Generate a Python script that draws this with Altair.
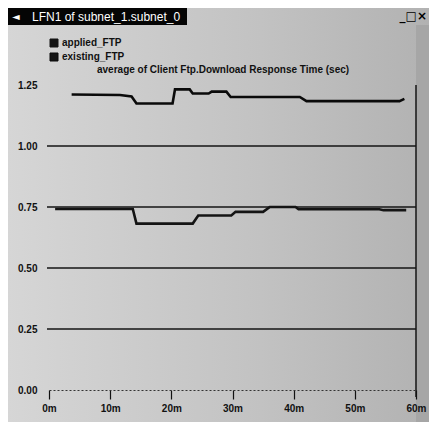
import altair as alt
import pandas as pd

# ---- data ----
series_names = ["applied_FTP", "existing_FTP"]

applied_minutes = [1.0, 13.7, 14.3, 23.5, 24.4, 29.8, 30.5, 35.0, 36.1, 40.3, 40.8, 54.0, 54.7, 58.4]
applied_values = [0.742, 0.742, 0.682, 0.682, 0.715, 0.715, 0.730, 0.730, 0.750, 0.750, 0.741, 0.741, 0.737, 0.737]

existing_minutes = [3.7, 11.6, 13.5, 14.3, 20.2, 20.6, 23.0, 23.5, 26.1, 26.6, 29.0, 29.7, 41.0, 42.1, 57.3, 58.1]
existing_values = [1.211, 1.209, 1.203, 1.174, 1.174, 1.232, 1.232, 1.215, 1.215, 1.223, 1.223, 1.201, 1.201, 1.184, 1.184, 1.193]

grid_values = [0.25, 0.50, 0.75, 1.00]
x_ticks = [0, 10, 20, 30, 40, 50, 60]
y_ticks = [0.0, 0.25, 0.50, 0.75, 1.00, 1.25]

window_title = "LFN1 of subnet_1.subnet_0"
chart_title = "average of Client Ftp.Download Response Time (sec)"

df = pd.concat([
    pd.DataFrame({"minute": applied_minutes, "value": applied_values, "series": series_names[0]}),
    pd.DataFrame({"minute": existing_minutes, "value": existing_values, "series": series_names[1]}),
])
grid_df = pd.DataFrame({"value": grid_values})

W, H = 367, 305
FONT = "Liberation Sans Narrow, Liberation Sans, Arial, sans-serif"

one = pd.DataFrame({"k": [0]})

bg = alt.Chart(one).mark_rect(
    color=alt.Gradient(
        gradient="linear",
        stops=[alt.GradientStop(color="#d6d6d6", offset=0),
               alt.GradientStop(color="#c2c2c2", offset=0.6),
               alt.GradientStop(color="#b2b2b2", offset=1)],
        x1=0, x2=1, y1=0, y2=0,
    )
).encode(x=alt.value(-41), x2=alt.value(380), y=alt.value(-77), y2=alt.value(337))

strip = alt.Chart(one).mark_rect(color="#a6a6a6").encode(
    x=alt.value(W), x2=alt.value(380), y=alt.value(-60), y2=alt.value(337))

titlebar = alt.Chart(one).mark_rect(color="#050505").encode(
    x=alt.value(-41), x2=alt.value(138), y=alt.value(-77), y2=alt.value(-60))

icon = alt.Chart(one).mark_text(color="white", fontSize=10, align="left", baseline="middle", font="DejaVu Sans").encode(
    x=alt.value(-37), y=alt.value(-68.5), text=alt.value("◄"))

win_text = alt.Chart(one).mark_text(color="white", fontSize=12, align="left", baseline="middle", font="Liberation Sans").encode(
    x=alt.value(-17), y=alt.value(-68.5), text=alt.value(window_title))

buttons = alt.Chart(one).mark_text(color="black", fontSize=12, fontWeight="bold", align="right", baseline="middle", font="DejaVu Sans").encode(
    x=alt.value(378), y=alt.value(-69), text=alt.value("_□×"))

title_text = alt.Chart(one).mark_text(color="#111", fontSize=10, fontWeight="bold", align="left", baseline="middle", font=FONT).encode(
    x=alt.value(48), y=alt.value(-15), text=alt.value(chart_title))

grid = alt.Chart(grid_df).mark_rule(color="#151515", strokeWidth=1.6).encode(
    y=alt.Y("value:Q", title=None),
    x=alt.value(-2), x2=alt.value(W),
)

right_border = alt.Chart(one).mark_rule(color="#151515", strokeWidth=1.5).encode(
    x=alt.value(W), y=alt.value(0), y2=alt.value(H + 7))

lines = alt.Chart(df).mark_line(strokeWidth=2.6).encode(
    x=alt.X("minute:Q", title=None,
            scale=alt.Scale(domain=[0, 60], nice=False, zero=False),
            axis=alt.Axis(values=x_ticks, labelExpr="datum.value + 'm'", grid=False,
                          tickSize=9, tickColor="#111", tickWidth=1.2,
                          domainColor="#333", domainDash=[2, 2], domainWidth=1,
                          labelFlush=False, labelPadding=4, zindex=2)),
    y=alt.Y("value:Q", title=None,
            scale=alt.Scale(domain=[0, 1.25], nice=False),
            axis=alt.Axis(values=y_ticks, format=".2f", grid=False, ticks=False,
                          domain=False, labelPadding=12, zindex=2)),
    color=alt.Color("series:N", scale=alt.Scale(domain=series_names, range=["#141414", "#0a0a0a"]),
                    legend=alt.Legend(title=None, orient="none", legendX=0, legendY=-47,
                                      symbolType="square", symbolSize=64, symbolStrokeWidth=1,
                                      symbolFillColor="#141414", symbolStrokeColor="#141414",
                                      symbolOpacity=1, labelFontSize=10, labelFontWeight="bold",
                                      labelFont=FONT, labelColor="#111", rowPadding=2,
                                      padding=0, labelOffset=3)),
)

chart = alt.layer(bg, strip, titlebar, icon, win_text, buttons, title_text, grid, right_border, lines).properties(
    width=W, height=H,
    autosize="none",
    padding={"left": 41, "top": 77, "right": 13, "bottom": 32},
    background="#c8c8c8",
).configure_view(stroke=None).configure_axis(
    labelFont=FONT, labelFontSize=10, labelFontWeight="bold", labelColor="#111",
)

chart.save("out.html", embed_options={"renderer": "svg", "actions": False})
